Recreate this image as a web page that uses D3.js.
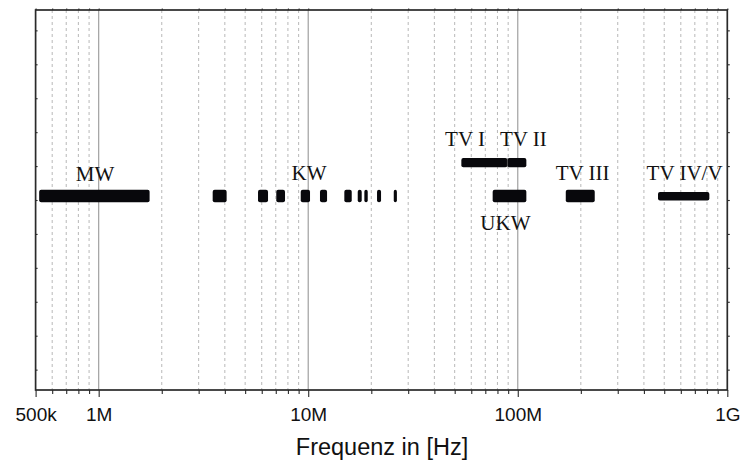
<!DOCTYPE html>
<html><head><meta charset="utf-8">
<script src="https://cdn.jsdelivr.net/npm/d3@7"></script>
<style>body{margin:0;background:#fff}</style>
</head><body>
<svg id="c" width="742" height="461"></svg>
<script>
// ---- data ----
const bandNames = ["MW","KW1","KW2","KW3","KW4","KW5","KW6","KW7","KW8","KW9","KW10","UKW","TV I","TV II","TV III","TV IV/V"];
const bandStart = [0.52e6,3.5e6,5.76e6,7.04e6,9.21e6,11.38e6,14.87e6,17.23e6,18.53e6,21.3e6,25.6e6,75.9e6,53.8e6,89.2e6,169.5e6,467e6];
const bandEnd   = [1.75e6,4.08e6,6.43e6,7.75e6,10.2e6,12.3e6,16.13e6,18.0e6,19.23e6,22.26e6,26.5e6,109.9e6,89.2e6,109.9e6,233e6,821e6];
const bandRow   = [0.12,0.12,0.12,0.12,0.12,0.12,0.12,0.12,0.12,0.12,0.12,0.12,1.1,1.1,0.12,0.11];
const labelText = ["MW","KW","TV I","TV II","TV III","TV IV/V","UKW"];
const labelFreq = [0.96e6,10.1e6,56.0e6,106.3e6,203.9e6,625.5e6,87.3e6];
const labelRow  = [0.55,0.6,1.59,1.59,0.6,0.6,-0.87];
const xTickValues = [5e5,1e6,1e7,1e8,1e9];
const xTickLabels = ["500k","1M","10M","100M","1G"];
const xMinor = [6e5,7e5,8e5,9e5,2e6,3e6,4e6,5e6,6e6,7e6,8e6,9e6,2e7,3e7,4e7,5e7,6e7,7e7,8e7,9e7,2e8,3e8,4e8,5e8,6e8,7e8,8e8,9e8];
const xMajorGrid = [1e6,1e7,1e8];
const yTickValues = [-5,-4,-3,-2,-1,0,1,2,3,4,5];
const xTitle = "Frequenz in [Hz]";

// ---- layout ----
const svg = d3.select("#c");
const L = 35.6, R = 727.3, T = 10, B = 390;
const x = d3.scaleLog().domain([5e5,1e9]).range([L,R]);
const y = d3.scaleLinear().domain([-5.6,5.6]).range([B,T]);

// grid
svg.append("g").selectAll("line").data(xMinor).join("line")
  .attr("x1",d=>x(d)).attr("x2",d=>x(d)).attr("y1",T).attr("y2",B)
  .attr("stroke","#b8b8b8").attr("stroke-width",1).attr("stroke-dasharray","3,3");
svg.append("g").selectAll("line").data(xMajorGrid).join("line")
  .attr("x1",d=>x(d)).attr("x2",d=>x(d)).attr("y1",T).attr("y2",B)
  .attr("stroke","#a0a0a0").attr("stroke-width",1.2);

// bars
const thin = {"TV I":9.3,"TV II":9.3,"TV IV/V":8.4};
const bars = bandNames.map((n,i)=>({n,s:bandStart[i],e:bandEnd[i],r:bandRow[i]}));
svg.append("g").selectAll("rect").data(bars).join("rect")
  .attr("x",d=>x(d.s)).attr("width",d=>x(d.e)-x(d.s))
  .attr("y",d=>y(d.r)-(thin[d.n]||12.4)/2).attr("height",d=>thin[d.n]||12.4)
  .attr("rx",2).attr("fill","#08080c");
// separator between TV I and TV II
svg.append("line").attr("x1",x(bandEnd[12])).attr("x2",x(bandEnd[12]))
  .attr("y1",y(1.1)-4.6).attr("y2",y(1.1)+4.6).attr("stroke","#555").attr("stroke-width",0.6);

// labels
svg.append("g").selectAll("text").data(labelText).join("text")
  .attr("x",(d,i)=>x(labelFreq[i])).attr("y",(d,i)=>y(labelRow[i]))
  .attr("text-anchor","middle").attr("font-family","'Liberation Serif','Times New Roman',serif")
  .attr("font-size",21).attr("fill","#111").text(d=>d);

// axes
const ax = "#2a2a2a";
const gB = svg.append("g").attr("transform",`translate(0,${B})`);
gB.call(d3.axisBottom(x).tickValues(xMinor).tickSize(4).tickFormat(""));
const gB2 = svg.append("g").attr("transform",`translate(0,${B})`);
gB2.call(d3.axisBottom(x).tickValues(xTickValues).tickSize(7).tickFormat((d,i)=>xTickLabels[i]).tickPadding(10.5));
const gT = svg.append("g").attr("transform",`translate(0,${T})`);
gT.call(d3.axisTop(x).tickValues(xMinor.concat(xTickValues)).tickSize(1.5).tickFormat(""));
const gL = svg.append("g").attr("transform",`translate(${L},0)`);
gL.call(d3.axisRight(y).tickValues(yTickValues).tickSize(2).tickFormat(""));
const gR = svg.append("g").attr("transform",`translate(${R},0)`);
gR.call(d3.axisRight(y).tickValues(yTickValues).tickSize(2.5).tickFormat(""));
svg.selectAll(".domain").remove();
svg.selectAll(".tick line").attr("stroke",ax).attr("stroke-width",1.1);
gB2.selectAll(".tick text").attr("font-family","'Liberation Sans',Arial,Helvetica,sans-serif")
  .attr("font-size",19).attr("fill","#111");

// frame
svg.append("rect").attr("x",L).attr("y",T).attr("width",R-L).attr("height",B-T)
  .attr("fill","none").attr("stroke",ax).attr("stroke-width",1.7);

// title
svg.append("text").attr("x",382).attr("y",455).attr("text-anchor","middle")
  .attr("font-family","'Liberation Sans',Arial,Helvetica,sans-serif").attr("font-size",23.5)
  .attr("fill","#111").text(xTitle);
</script>
</body></html>
